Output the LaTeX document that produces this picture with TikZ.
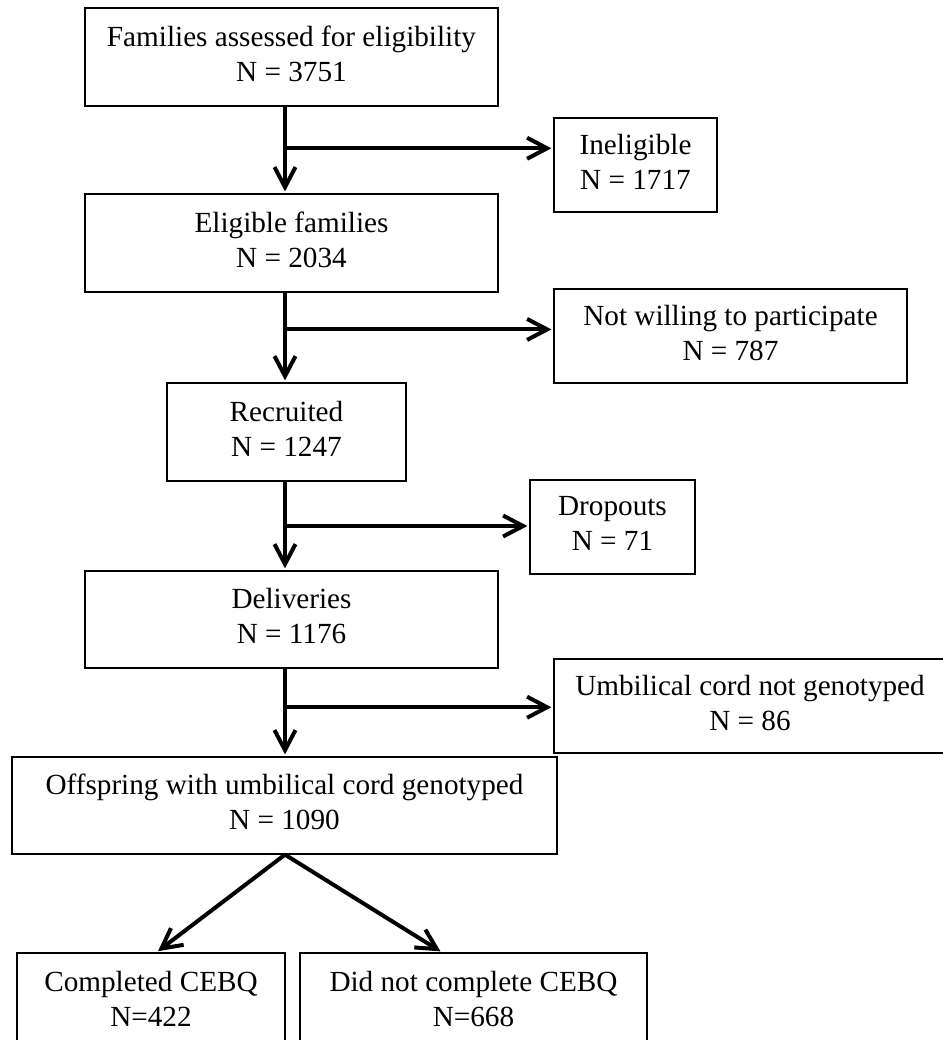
\documentclass[tikz,border=0pt]{standalone}
\usepackage{fontspec}
\setmainfont{Liberation Serif}
\usetikzlibrary{arrows.meta, calc}
\tikzset{
    >={Straight Barb[length=10pt, width=10.5pt]},
    box/.style={draw, line width=0.6pt, align=center, inner sep=2pt, font=\fontsize{14.6}{17.5}\selectfont,
        execute at end node={\rule[-3.5pt]{0pt}{0pt}}},
    flow/.style={->, line width=2pt, shorten >=1pt}
}

\begin{document}
\begin{tikzpicture}[x=0.5pt, y=-0.5pt]

    \clip (0,0) rectangle (943,1040);
    \coordinate (sp) at (285,0);

    % main column
    \node[box, minimum width=206.5pt, minimum height=49pt] (assessed) at (291.5,57) {Families assessed for eligibility\\N = 3751};
    \node[box, minimum width=206.5pt, minimum height=49pt] (eligible) at (291.5,243) {Eligible families\\N = 2034};
    \node[box, minimum width=119.5pt, minimum height=49pt] (recruited) at (286.5,432) {Recruited\\N = 1247};
    \node[box, minimum width=206.5pt, minimum height=48.5pt] (deliveries) at (291.5,619.5) {Deliveries\\N = 1176};
    \node[box, minimum width=272.5pt, minimum height=48.5pt] (offspring) at (284.5,805.5) {Offspring with umbilical cord genotyped\\N = 1090};

    % side boxes
    \node[box, minimum width=81.5pt, minimum height=47pt] (inelig) at (635.5,165) {Ineligible\\N = 1717};
    \node[box, minimum width=176.5pt, minimum height=47pt] (notwilling) at (730.5,336) {Not willing to participate\\N = 787};
    \node[box, minimum width=82.5pt, minimum height=47pt] (dropouts) at (612.5,527) {Dropouts\\N = 71};
    \node[box, minimum width=196pt, minimum height=47pt] (notgeno) at (750,706) {Umbilical cord not genotyped\\N = 86};

    % bottom row
    \node[box, minimum width=134pt, minimum height=49pt] (completed) at (151,1002) {Completed CEBQ\\N=422};
    \node[box, minimum width=173.5pt, minimum height=49pt] (notcompleted) at (473.5,1002) {Did not complete CEBQ\\N=668};

    \draw[flow] (assessed.south -| sp) -- coordinate[pos=0.48] (m1) (eligible.north -| sp);
    \draw[flow] (m1) -- (m1 -| inelig.west);

    \draw[flow] (eligible.south -| sp) -- coordinate[pos=0.41] (m2) (recruited.north -| sp);
    \draw[flow] (m2) -- (m2 -| notwilling.west);

    \draw[flow] (recruited.south -| sp) -- coordinate[pos=0.5] (m3) (deliveries.north -| sp);
    \draw[flow] (m3) -- (m3 -| dropouts.west);

    \draw[flow] (deliveries.south -| sp) -- coordinate[pos=0.44] (m4) (offspring.north -| sp);
    \draw[flow] (m4) -- (m4 -| notgeno.west);

    \draw[flow] (offspring.south -| sp) -- ($(completed.north west)!0.52!(completed.north east)$);
    \draw[flow] (offspring.south -| sp) -- ($(notcompleted.north west)!0.41!(notcompleted.north east)$);

\end{tikzpicture}
\end{document}
